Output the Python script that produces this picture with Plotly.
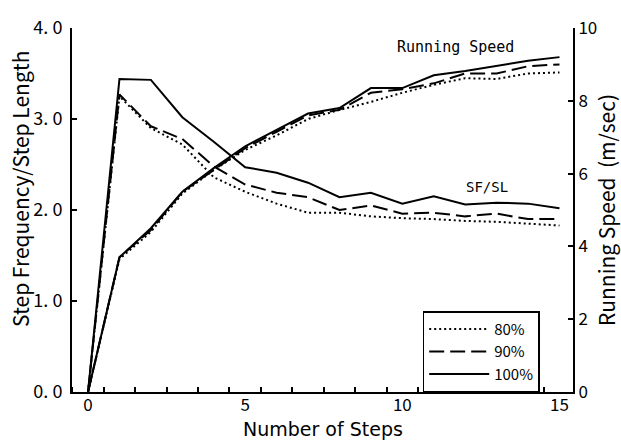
import plotly.graph_objects as go

steps = list(range(16))
series_names = ["80%", "90%", "100%"]
sfsl_80 = [0, 3.25, 2.90, 2.72, 2.36, 2.20, 2.07, 1.97, 1.97, 1.93, 1.91, 1.90, 1.88, 1.87, 1.85, 1.83]
sfsl_90 = [0, 3.27, 2.92, 2.78, 2.48, 2.28, 2.19, 2.14, 2.00, 2.05, 1.96, 1.97, 1.93, 1.96, 1.90, 1.90]
sfsl_100 = [0, 3.44, 3.43, 3.02, 2.75, 2.47, 2.41, 2.30, 2.14, 2.19, 2.07, 2.15, 2.06, 2.08, 2.07, 2.02]
speed_80 = [0, 3.65, 4.40, 5.45, 6.10, 6.65, 7.05, 7.50, 7.75, 7.97, 8.22, 8.44, 8.62, 8.60, 8.75, 8.78]
speed_90 = [0, 3.70, 4.45, 5.50, 6.10, 6.70, 7.15, 7.60, 7.75, 8.22, 8.32, 8.48, 8.75, 8.75, 8.95, 9.00]
speed_100 = [0, 3.70, 4.50, 5.50, 6.15, 6.75, 7.20, 7.65, 7.80, 8.35, 8.35, 8.70, 8.82, 8.95, 9.10, 9.20]

left_tickvals = [0, 1, 2, 3, 4]
left_ticktext = ["0. 0", "1. 0", "2. 0", "3. 0", "4. 0"]
right_tickvals = [0, 2, 4, 6, 8, 10]
x_tickvals = [0, 5, 10, 15]

FONT = "Noto Sans CJK JP"
MONO = "DejaVu Sans Mono"
dashes = ["2px,3px", "15px,6px", "solid"]

fig = go.Figure()
for name, sf, sp, dash in zip(series_names, [sfsl_80, sfsl_90, sfsl_100],
                              [speed_80, speed_90, speed_100], dashes):
    fig.add_trace(go.Scatter(x=steps, y=sf, mode="lines", name=name,
                             line=dict(color="black", width=2, dash=dash),
                             showlegend=True, yaxis="y"))
    fig.add_trace(go.Scatter(x=steps, y=sp, mode="lines", name=name,
                             line=dict(color="black", width=2, dash=dash),
                             showlegend=False, yaxis="y2"))

fig.update_layout(
    width=621, height=443,
    margin=dict(l=72, r=48, t=28, b=51),
    paper_bgcolor="white", plot_bgcolor="white",
    font=dict(family=FONT, size=17, color="black"),
    xaxis=dict(range=[-0.51, 15.43], tickvals=x_tickvals, ticks="",
               showgrid=False, zeroline=False, showline=True, linecolor="black",
               linewidth=2, tickfont=dict(size=17), ticklabelstandoff=-3,
               minor=dict(tick0=0.5, dtick=1, ticks="inside", ticklen=5,
                          tickcolor="black", tickwidth=2, showgrid=False)),
    yaxis=dict(range=[0, 4], tickvals=left_tickvals, ticktext=left_ticktext,
               ticks="inside", ticklen=5, tickwidth=2, tickcolor="black",
               showgrid=False, zeroline=False, showline=True, linecolor="black",
               linewidth=2, tickfont=dict(size=18), ticklabelstandoff=4),
    yaxis2=dict(range=[0, 10], tickvals=right_tickvals, overlaying="y", side="right",
                ticks="inside", ticklen=5, tickwidth=2, tickcolor="black",
                showgrid=False, zeroline=False, showline=True, linecolor="black",
                linewidth=2, tickfont=dict(size=17)),
    legend=dict(x=0.70, y=0.222, xanchor="left", yanchor="top",
                bordercolor="black", borderwidth=1.5, bgcolor="white",
                itemwidth=60,
                font=dict(size=15, family=FONT), tracegroupgap=0),
    annotations=[
        dict(text="Step Frequency/Step Length", xref="paper", yref="paper",
             x=-0.104, y=0.56, textangle=-90, showarrow=False,
             xanchor="center", yanchor="middle", font=dict(size=21)),
        dict(text="Running Speed  (m/sec)", xref="paper", yref="paper",
             x=1.066, y=0.50, textangle=-90, showarrow=False,
             xanchor="center", yanchor="middle", font=dict(size=21)),
        dict(text="Number of Steps", xref="paper", yref="paper",
             x=0.5, y=-0.138, showarrow=False, xanchor="center",
             yanchor="bottom", font=dict(size=19, family="DejaVu Sans")),
        dict(text="Running Speed", xref="x", yref="y", x=11.7, y=3.79,
             showarrow=False, font=dict(size=15, family=MONO)),
        dict(text="SF/SL", xref="x", yref="y", x=12.7, y=2.25,
             showarrow=False, font=dict(size=14, family=MONO)),
    ],
)

fig.write_html("out.html")
